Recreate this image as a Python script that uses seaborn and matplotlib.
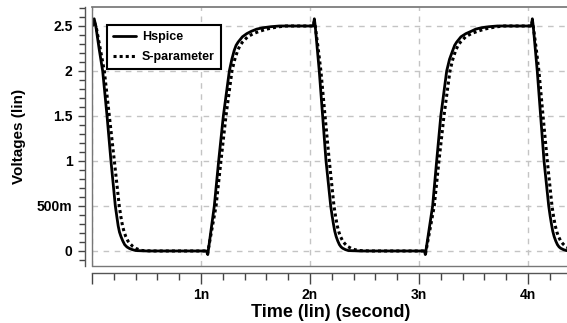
import seaborn as sns
import matplotlib.pyplot as plt
from matplotlib.ticker import MultipleLocator

# waveform values (time in ns, voltage in V)
hspice_t = [0.0, 0.02, 0.035, 0.065, 0.098, 0.138, 0.174, 0.214, 0.228, 0.24, 0.252, 0.266, 0.283, 0.30, 0.32, 0.34, 0.37, 0.40, 0.50,
            1.05, 1.062, 1.122, 1.162, 1.205, 1.26, 1.283, 1.305, 1.322, 1.34, 1.38, 1.42, 1.46, 1.51, 1.566, 1.64, 1.72,
            2.03, 2.04, 2.048, 2.065, 2.085, 2.116, 2.147, 2.19, 2.203, 2.215, 2.227, 2.24, 2.255, 2.27, 2.285, 2.30, 2.325, 2.35, 2.45,
            3.05, 3.058, 3.125, 3.162, 3.20, 3.254, 3.28, 3.31, 3.327, 3.345, 3.385, 3.43, 3.477, 3.52, 3.57, 3.64, 3.72,
            4.03, 4.04, 4.048, 4.065, 4.085, 4.116, 4.147, 4.19, 4.203, 4.215, 4.227, 4.24, 4.255, 4.27, 4.285, 4.30, 4.325, 4.35, 4.40]
hspice_v = [2.50, 2.58, 2.50, 2.25, 2.0, 1.5, 1.0, 0.5, 0.38, 0.28, 0.21, 0.16, 0.11, 0.07, 0.045, 0.03, 0.015, 0.005, 0.0,
            0.0, -0.04, 0.5, 1.0, 1.5, 2.0, 2.13, 2.23, 2.285, 2.32, 2.38, 2.415, 2.44, 2.465, 2.48, 2.492, 2.50,
            2.50, 2.58, 2.50, 2.27, 2.0, 1.5, 1.0, 0.5, 0.39, 0.30, 0.22, 0.16, 0.11, 0.07, 0.045, 0.03, 0.015, 0.005, 0.0,
            0.0, -0.04, 0.5, 1.0, 1.5, 2.0, 2.13, 2.23, 2.285, 2.32, 2.38, 2.415, 2.44, 2.465, 2.48, 2.492, 2.50,
            2.50, 2.58, 2.50, 2.27, 2.0, 1.5, 1.0, 0.5, 0.39, 0.30, 0.22, 0.16, 0.11, 0.07, 0.045, 0.03, 0.015, 0.005, 0.0]

sparam_t = [0.0, 0.02, 0.04, 0.075, 0.113, 0.159, 0.205, 0.25, 0.265, 0.28, 0.295, 0.31, 0.33, 0.35, 0.375, 0.40, 0.43, 0.46, 0.55,
            1.05, 1.06, 1.138, 1.183, 1.229, 1.284, 1.31, 1.337, 1.357, 1.38, 1.428, 1.48, 1.535, 1.60, 1.66, 1.72, 1.78,
            2.03, 2.04, 2.05, 2.075, 2.10, 2.138, 2.177, 2.22, 2.235, 2.25, 2.265, 2.28, 2.30, 2.32, 2.345, 2.376, 2.41, 2.45, 2.55,
            3.05, 3.06, 3.14, 3.183, 3.229, 3.284, 3.31, 3.337, 3.357, 3.38, 3.428, 3.48, 3.535, 3.60, 3.66, 3.72, 3.78,
            4.03, 4.04, 4.05, 4.075, 4.10, 4.138, 4.177, 4.22, 4.235, 4.25, 4.265, 4.28, 4.30, 4.32, 4.345, 4.376, 4.41, 4.45]
sparam_v = [2.50, 2.55, 2.48, 2.25, 2.0, 1.5, 1.0, 0.5, 0.38, 0.28, 0.21, 0.16, 0.11, 0.08, 0.05, 0.03, 0.015, 0.005, 0.0,
            0.0, -0.03, 0.5, 1.0, 1.5, 2.0, 2.13, 2.23, 2.28, 2.32, 2.38, 2.415, 2.44, 2.465, 2.48, 2.492, 2.50,
            2.50, 2.55, 2.48, 2.25, 2.0, 1.5, 1.0, 0.5, 0.38, 0.28, 0.21, 0.16, 0.11, 0.08, 0.05, 0.03, 0.015, 0.005, 0.0,
            0.0, -0.03, 0.5, 1.0, 1.5, 2.0, 2.13, 2.23, 2.28, 2.32, 2.38, 2.415, 2.44, 2.465, 2.48, 2.492, 2.50,
            2.50, 2.55, 2.48, 2.25, 2.0, 1.5, 1.0, 0.5, 0.38, 0.28, 0.21, 0.16, 0.11, 0.08, 0.05, 0.03, 0.015, 0.0]

x_ticks = [0, 1, 2, 3, 4]
x_labels = ["", "1n", "2n", "3n", "4n"]
y_ticks = [0, 0.5, 1, 1.5, 2, 2.5]
y_labels = ["0", "500m", "1", "1.5", "2", "2.5"]


sns.set_theme(style="white")
plt.rcParams["font.family"] = ["Liberation Sans", "DejaVu Sans"]
plt.rcParams["text.color"] = "black"
plt.rcParams["axes.labelcolor"] = "black"
plt.rcParams["xtick.color"] = "black"
plt.rcParams["ytick.color"] = "black"

fig = plt.figure(figsize=(5.67, 3.23), dpi=100)
ax = fig.add_axes([92 / 567, 57 / 323, 478 / 567, 259 / 323])

sns.lineplot(x=hspice_t, y=hspice_v, ax=ax, color="black", linewidth=2,
             sort=False, estimator=None, label="Hspice")
sns.lineplot(x=sparam_t, y=sparam_v, ax=ax, color="black", linewidth=2.2,
             linestyle=(0, (1, 1)), sort=False, estimator=None, label="S-parameter")

ax.set_xlim(0, 478 / 109)
ax.set_ylim(-0.167, 2.711)

ax.set_xticks(x_ticks, x_labels)
ax.set_yticks(y_ticks, y_labels)
ax.xaxis.set_minor_locator(MultipleLocator(0.2))
ax.yaxis.set_minor_locator(MultipleLocator(0.1))

ax.grid(True, which="major", color="#c4c4c4", linestyle=(0, (4, 4)), linewidth=1)

# axis lines sit a bit outside the plot frame
ax.spines["right"].set_visible(False)
ax.spines["top"].set_color("#777777")
ax.spines["left"].set_position(("outward", 5))
ax.spines["bottom"].set_position(("outward", 5))
for s in ["left", "bottom"]:
    ax.spines[s].set_color("#555555")
    ax.spines[s].set_linewidth(1)
ax.plot([0, 0], [0, 1], transform=ax.transAxes, color="#777777", lw=1, clip_on=False)
ax.plot([0, 1], [0, 0], transform=ax.transAxes, color="#777777", lw=1, clip_on=False)

ax.tick_params(axis="both", which="both", direction="out", color="#444444", width=1,
               bottom=True, left=True, top=False, right=False)
ax.tick_params(axis="y", which="major", length=5, pad=4, labelsize=10)
ax.tick_params(axis="y", which="minor", length=4)
ax.tick_params(axis="x", which="major", length=8, pad=3, labelsize=10)
ax.tick_params(axis="x", which="minor", length=5)
for lab in ax.get_xticklabels() + ax.get_yticklabels():
    lab.set_fontweight("bold")

ax.set_xlabel("Time (lin) (second)", fontsize=13, fontweight="bold", labelpad=1)
ax.set_ylabel("Voltages (lin)", fontsize=11, fontweight="bold", labelpad=8)

leg = ax.legend(loc="upper left", bbox_to_anchor=(0.031, 0.93), borderaxespad=0,
                fancybox=False, framealpha=1, edgecolor="black", fontsize=9,
                handlelength=1.8, handletextpad=0.5, labelspacing=0.6, borderpad=0.5)
leg.get_frame().set_linewidth(1.5)
for t in leg.get_texts():
    t.set_fontweight("bold")

plt.savefig("out.png", dpi=100)
